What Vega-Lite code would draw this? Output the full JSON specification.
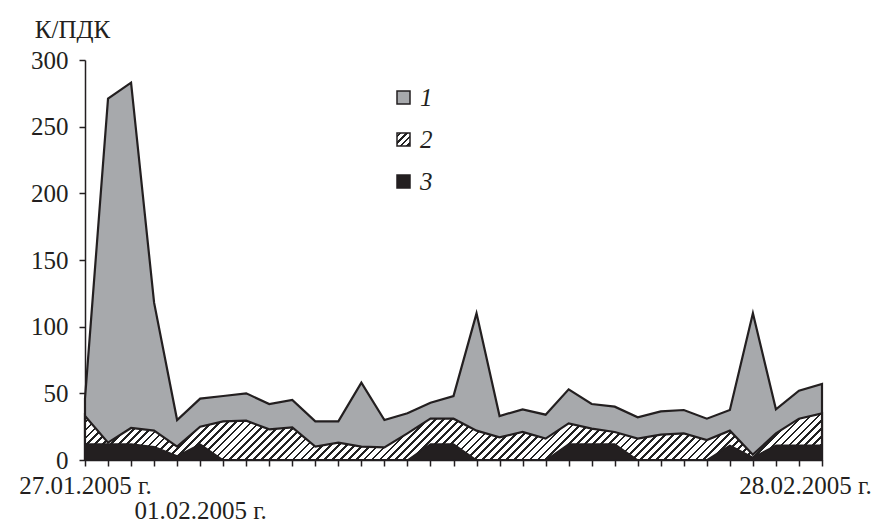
{
  "$schema": "https://vega.github.io/schema/vega-lite/v6.json",
  "autosize": {"type": "none"},
  "padding": {"left": 85, "top": 60, "right": 71, "bottom": 65},
  "width": 737,
  "height": 400,
  "background": "white",
  "config": {
    "view": {"stroke": null},
    "font": "Liberation Serif",
    "axisY": {
      "labelFont": "Liberation Serif",
      "labelFontSize": 25,
      "labelColor": "#231f20",
      "labelPadding": 11,
      "tickSize": 6,
      "tickWidth": 1.5,
      "tickColor": "#231f20",
      "domainColor": "#231f20",
      "domainWidth": 1.5,
      "grid": false,
      "titleFont": "Liberation Serif",
      "titleFontSize": 25,
      "titleFontWeight": "normal",
      "titleColor": "#231f20",
      "titleAngle": 0,
      "titleAlign": "center",
      "titleBaseline": "alphabetic",
      "titleX": -13,
      "titleY": -23
    },
    "legend": {
      "orient": "none",
      "legendX": 306,
      "legendY": 25,
      "direction": "vertical",
      "symbolType": "square",
      "symbolSize": 169,
      "symbolStrokeColor": "#231f20",
      "symbolStrokeWidth": 1.5,
      "labelFont": "Liberation Serif",
      "labelFontStyle": "italic",
      "labelFontSize": 25,
      "labelColor": "#231f20",
      "labelOffset": 4,
      "rowPadding": 16,
      "title": null
    }
  },
  "data": {
    "values": [
      {"day": 0, "date": "27.01", "s1": 46, "s2": 33, "s3": 12},
      {"day": 1, "date": "28.01", "s1": 271, "s2": 13, "s3": 12},
      {"day": 2, "date": "29.01", "s1": 283, "s2": 24, "s3": 12},
      {"day": 3, "date": "30.01", "s1": 118, "s2": 22, "s3": 10},
      {"day": 4, "date": "31.01", "s1": 30, "s2": 10, "s3": 3},
      {"day": 5, "date": "01.02", "s1": 46, "s2": 25, "s3": 12},
      {"day": 6, "date": "02.02", "s1": 48, "s2": 29, "s3": 0},
      {"day": 7, "date": "03.02", "s1": 50, "s2": 29.5, "s3": 0},
      {"day": 8, "date": "04.02", "s1": 42, "s2": 23, "s3": 0},
      {"day": 9, "date": "05.02", "s1": 45, "s2": 24.5, "s3": 0},
      {"day": 10, "date": "06.02", "s1": 29, "s2": 10, "s3": 0},
      {"day": 11, "date": "07.02", "s1": 29, "s2": 13, "s3": 0},
      {"day": 12, "date": "08.02", "s1": 58, "s2": 10, "s3": 0},
      {"day": 13, "date": "09.02", "s1": 30, "s2": 9.5, "s3": 0},
      {"day": 14, "date": "10.02", "s1": 35, "s2": 20, "s3": 0},
      {"day": 15, "date": "11.02", "s1": 43, "s2": 31, "s3": 12},
      {"day": 16, "date": "12.02", "s1": 48, "s2": 31, "s3": 12},
      {"day": 17, "date": "13.02", "s1": 110, "s2": 22, "s3": 0},
      {"day": 18, "date": "14.02", "s1": 33, "s2": 17, "s3": 0},
      {"day": 19, "date": "15.02", "s1": 38, "s2": 21, "s3": 0},
      {"day": 20, "date": "16.02", "s1": 34, "s2": 16, "s3": 0},
      {"day": 21, "date": "17.02", "s1": 53, "s2": 27.5, "s3": 12},
      {"day": 22, "date": "18.02", "s1": 42, "s2": 23.5, "s3": 12},
      {"day": 23, "date": "19.02", "s1": 40, "s2": 21, "s3": 12},
      {"day": 24, "date": "20.02", "s1": 32, "s2": 16, "s3": 0},
      {"day": 25, "date": "21.02", "s1": 36.5, "s2": 19, "s3": 0},
      {"day": 26, "date": "22.02", "s1": 37.5, "s2": 20, "s3": 0},
      {"day": 27, "date": "23.02", "s1": 31, "s2": 15, "s3": 0},
      {"day": 28, "date": "24.02", "s1": 37.5, "s2": 22, "s3": 11},
      {"day": 29, "date": "25.02", "s1": 110, "s2": 4, "s3": 2},
      {"day": 30, "date": "26.02", "s1": 38, "s2": 20, "s3": 11},
      {"day": 31, "date": "27.02", "s1": 52, "s2": 31, "s3": 11},
      {"day": 32, "date": "28.02", "s1": 57, "s2": 35, "s3": 11}
    ]
  },
  "encoding": {
    "x": {
      "field": "day",
      "type": "quantitative",
      "scale": {"domain": [0, 32], "nice": false, "zero": false},
      "axis": {
        "values": [0,1,2,3,4,5,6,7,8,9,10,11,12,13,14,15,16,17,18,19,20,21,22,23,24,25,26,27,28,29,30,31,32],
        "labelExpr": "datum.value === 0 ? '27.01.2005 г.' : datum.value === 5 ? ['', '01.02.2005 г.'] : datum.value === 32 ? '28.02.2005 г.' : ''",
        "labelOffset": {"condition": {"test": "datum.value === 32", "value": -17}, "value": 0},
        "labelFont": "Liberation Serif",
        "labelFontSize": 25,
        "labelColor": "#231f20",
        "labelLineHeight": 25,
        "labelBaseline": "top",
        "labelPadding": 7,
        "labelOverlap": false,
        "labelFlush": false,
        "labelBound": false,
        "tickSize": 6,
        "tickWidth": 1.5,
        "tickColor": "#231f20",
        "domainColor": "#231f20",
        "domainWidth": 1.5,
        "grid": false,
        "title": null
      }
    }
  },
  "layer": [
    {
      "mark": {"type": "area", "stroke": "#231f20", "strokeWidth": 2.2, "strokeJoin": "miter", "strokeMiterLimit": 20},
      "encoding": {
        "y": {
          "field": "s1",
          "type": "quantitative",
          "stack": null,
          "scale": {"domain": [0, 300], "nice": false},
          "axis": {"values": [0, 50, 100, 150, 200, 250, 300], "title": "К/ПДК"}
        },
        "color": {
          "datum": "1",
          "type": "nominal",
          "scale": {
            "domain": ["1", "2", "3"],
            "range": [
              "#a7a9ac",
              {"expr": "{gradient:'linear',x1:0,y1:0,x2:1,y2:1,stops:[{offset:0,color:'#fff'},{offset:0.08,color:'#fff'},{offset:0.08,color:'#222'},{offset:0.18,color:'#222'},{offset:0.18,color:'#fff'},{offset:0.33,color:'#fff'},{offset:0.33,color:'#222'},{offset:0.43,color:'#222'},{offset:0.43,color:'#fff'},{offset:0.58,color:'#fff'},{offset:0.58,color:'#222'},{offset:0.68,color:'#222'},{offset:0.68,color:'#fff'},{offset:0.83,color:'#fff'},{offset:0.83,color:'#222'},{offset:0.93,color:'#222'},{offset:0.93,color:'#fff'},{offset:1,color:'#fff'}]}"},
              "#231f20"
            ]
          }
        }
      }
    },
    {
      "mark": {
        "type": "area",
        "stroke": "#231f20",
        "strokeWidth": 2.2,
        "strokeJoin": "miter",
        "fill": {
          "gradient": "linear",
          "x1": 0, "y1": 0, "x2": 1.0676, "y2": 0.0676,
          "stops": [
            {"offset":0,"color":"#222"},{"offset":0.0035,"color":"#222"},{"offset":0.0035,"color":"#fff"},{"offset":0.01,"color":"#fff"},
            {"offset":0.01,"color":"#222"},{"offset":0.0135,"color":"#222"},{"offset":0.0135,"color":"#fff"},{"offset":0.02,"color":"#fff"},
            {"offset":0.02,"color":"#222"},{"offset":0.0235,"color":"#222"},{"offset":0.0235,"color":"#fff"},{"offset":0.03,"color":"#fff"},
            {"offset":0.03,"color":"#222"},{"offset":0.0335,"color":"#222"},{"offset":0.0335,"color":"#fff"},{"offset":0.04,"color":"#fff"},
            {"offset":0.04,"color":"#222"},{"offset":0.0435,"color":"#222"},{"offset":0.0435,"color":"#fff"},{"offset":0.05,"color":"#fff"},
            {"offset":0.05,"color":"#222"},{"offset":0.0535,"color":"#222"},{"offset":0.0535,"color":"#fff"},{"offset":0.06,"color":"#fff"},
            {"offset":0.06,"color":"#222"},{"offset":0.0635,"color":"#222"},{"offset":0.0635,"color":"#fff"},{"offset":0.07,"color":"#fff"},
            {"offset":0.07,"color":"#222"},{"offset":0.0735,"color":"#222"},{"offset":0.0735,"color":"#fff"},{"offset":0.08,"color":"#fff"},
            {"offset":0.08,"color":"#222"},{"offset":0.0835,"color":"#222"},{"offset":0.0835,"color":"#fff"},{"offset":0.09,"color":"#fff"},
            {"offset":0.09,"color":"#222"},{"offset":0.0935,"color":"#222"},{"offset":0.0935,"color":"#fff"},{"offset":0.10,"color":"#fff"},
            {"offset":0.10,"color":"#222"},{"offset":0.1035,"color":"#222"},{"offset":0.1035,"color":"#fff"},{"offset":0.11,"color":"#fff"},
            {"offset":0.11,"color":"#222"},{"offset":0.1135,"color":"#222"},{"offset":0.1135,"color":"#fff"},{"offset":0.12,"color":"#fff"},
            {"offset":0.12,"color":"#222"},{"offset":0.1235,"color":"#222"},{"offset":0.1235,"color":"#fff"},{"offset":0.13,"color":"#fff"},
            {"offset":0.13,"color":"#222"},{"offset":0.1335,"color":"#222"},{"offset":0.1335,"color":"#fff"},{"offset":0.14,"color":"#fff"},
            {"offset":0.14,"color":"#222"},{"offset":0.1435,"color":"#222"},{"offset":0.1435,"color":"#fff"},{"offset":0.15,"color":"#fff"},
            {"offset":0.15,"color":"#222"},{"offset":0.1535,"color":"#222"},{"offset":0.1535,"color":"#fff"},{"offset":0.16,"color":"#fff"},
            {"offset":0.16,"color":"#222"},{"offset":0.1635,"color":"#222"},{"offset":0.1635,"color":"#fff"},{"offset":0.17,"color":"#fff"},
            {"offset":0.17,"color":"#222"},{"offset":0.1735,"color":"#222"},{"offset":0.1735,"color":"#fff"},{"offset":0.18,"color":"#fff"},
            {"offset":0.18,"color":"#222"},{"offset":0.1835,"color":"#222"},{"offset":0.1835,"color":"#fff"},{"offset":0.19,"color":"#fff"},
            {"offset":0.19,"color":"#222"},{"offset":0.1935,"color":"#222"},{"offset":0.1935,"color":"#fff"},{"offset":0.20,"color":"#fff"},
            {"offset":0.20,"color":"#222"},{"offset":0.2035,"color":"#222"},{"offset":0.2035,"color":"#fff"},{"offset":0.21,"color":"#fff"},
            {"offset":0.21,"color":"#222"},{"offset":0.2135,"color":"#222"},{"offset":0.2135,"color":"#fff"},{"offset":0.22,"color":"#fff"},
            {"offset":0.22,"color":"#222"},{"offset":0.2235,"color":"#222"},{"offset":0.2235,"color":"#fff"},{"offset":0.23,"color":"#fff"},
            {"offset":0.23,"color":"#222"},{"offset":0.2335,"color":"#222"},{"offset":0.2335,"color":"#fff"},{"offset":0.24,"color":"#fff"},
            {"offset":0.24,"color":"#222"},{"offset":0.2435,"color":"#222"},{"offset":0.2435,"color":"#fff"},{"offset":0.25,"color":"#fff"},
            {"offset":0.25,"color":"#222"},{"offset":0.2535,"color":"#222"},{"offset":0.2535,"color":"#fff"},{"offset":0.26,"color":"#fff"},
            {"offset":0.26,"color":"#222"},{"offset":0.2635,"color":"#222"},{"offset":0.2635,"color":"#fff"},{"offset":0.27,"color":"#fff"},
            {"offset":0.27,"color":"#222"},{"offset":0.2735,"color":"#222"},{"offset":0.2735,"color":"#fff"},{"offset":0.28,"color":"#fff"},
            {"offset":0.28,"color":"#222"},{"offset":0.2835,"color":"#222"},{"offset":0.2835,"color":"#fff"},{"offset":0.29,"color":"#fff"},
            {"offset":0.29,"color":"#222"},{"offset":0.2935,"color":"#222"},{"offset":0.2935,"color":"#fff"},{"offset":0.30,"color":"#fff"},
            {"offset":0.30,"color":"#222"},{"offset":0.3035,"color":"#222"},{"offset":0.3035,"color":"#fff"},{"offset":0.31,"color":"#fff"},
            {"offset":0.31,"color":"#222"},{"offset":0.3135,"color":"#222"},{"offset":0.3135,"color":"#fff"},{"offset":0.32,"color":"#fff"},
            {"offset":0.32,"color":"#222"},{"offset":0.3235,"color":"#222"},{"offset":0.3235,"color":"#fff"},{"offset":0.33,"color":"#fff"},
            {"offset":0.33,"color":"#222"},{"offset":0.3335,"color":"#222"},{"offset":0.3335,"color":"#fff"},{"offset":0.34,"color":"#fff"},
            {"offset":0.34,"color":"#222"},{"offset":0.3435,"color":"#222"},{"offset":0.3435,"color":"#fff"},{"offset":0.35,"color":"#fff"},
            {"offset":0.35,"color":"#222"},{"offset":0.3535,"color":"#222"},{"offset":0.3535,"color":"#fff"},{"offset":0.36,"color":"#fff"},
            {"offset":0.36,"color":"#222"},{"offset":0.3635,"color":"#222"},{"offset":0.3635,"color":"#fff"},{"offset":0.37,"color":"#fff"},
            {"offset":0.37,"color":"#222"},{"offset":0.3735,"color":"#222"},{"offset":0.3735,"color":"#fff"},{"offset":0.38,"color":"#fff"},
            {"offset":0.38,"color":"#222"},{"offset":0.3835,"color":"#222"},{"offset":0.3835,"color":"#fff"},{"offset":0.39,"color":"#fff"},
            {"offset":0.39,"color":"#222"},{"offset":0.3935,"color":"#222"},{"offset":0.3935,"color":"#fff"},{"offset":0.40,"color":"#fff"},
            {"offset":0.40,"color":"#222"},{"offset":0.4035,"color":"#222"},{"offset":0.4035,"color":"#fff"},{"offset":0.41,"color":"#fff"},
            {"offset":0.41,"color":"#222"},{"offset":0.4135,"color":"#222"},{"offset":0.4135,"color":"#fff"},{"offset":0.42,"color":"#fff"},
            {"offset":0.42,"color":"#222"},{"offset":0.4235,"color":"#222"},{"offset":0.4235,"color":"#fff"},{"offset":0.43,"color":"#fff"},
            {"offset":0.43,"color":"#222"},{"offset":0.4335,"color":"#222"},{"offset":0.4335,"color":"#fff"},{"offset":0.44,"color":"#fff"},
            {"offset":0.44,"color":"#222"},{"offset":0.4435,"color":"#222"},{"offset":0.4435,"color":"#fff"},{"offset":0.45,"color":"#fff"},
            {"offset":0.45,"color":"#222"},{"offset":0.4535,"color":"#222"},{"offset":0.4535,"color":"#fff"},{"offset":0.46,"color":"#fff"},
            {"offset":0.46,"color":"#222"},{"offset":0.4635,"color":"#222"},{"offset":0.4635,"color":"#fff"},{"offset":0.47,"color":"#fff"},
            {"offset":0.47,"color":"#222"},{"offset":0.4735,"color":"#222"},{"offset":0.4735,"color":"#fff"},{"offset":0.48,"color":"#fff"},
            {"offset":0.48,"color":"#222"},{"offset":0.4835,"color":"#222"},{"offset":0.4835,"color":"#fff"},{"offset":0.49,"color":"#fff"},
            {"offset":0.49,"color":"#222"},{"offset":0.4935,"color":"#222"},{"offset":0.4935,"color":"#fff"},{"offset":0.50,"color":"#fff"},
            {"offset":0.50,"color":"#222"},{"offset":0.5035,"color":"#222"},{"offset":0.5035,"color":"#fff"},{"offset":0.51,"color":"#fff"},
            {"offset":0.51,"color":"#222"},{"offset":0.5135,"color":"#222"},{"offset":0.5135,"color":"#fff"},{"offset":0.52,"color":"#fff"},
            {"offset":0.52,"color":"#222"},{"offset":0.5235,"color":"#222"},{"offset":0.5235,"color":"#fff"},{"offset":0.53,"color":"#fff"},
            {"offset":0.53,"color":"#222"},{"offset":0.5335,"color":"#222"},{"offset":0.5335,"color":"#fff"},{"offset":0.54,"color":"#fff"},
            {"offset":0.54,"color":"#222"},{"offset":0.5435,"color":"#222"},{"offset":0.5435,"color":"#fff"},{"offset":0.55,"color":"#fff"},
            {"offset":0.55,"color":"#222"},{"offset":0.5535,"color":"#222"},{"offset":0.5535,"color":"#fff"},{"offset":0.56,"color":"#fff"},
            {"offset":0.56,"color":"#222"},{"offset":0.5635,"color":"#222"},{"offset":0.5635,"color":"#fff"},{"offset":0.57,"color":"#fff"},
            {"offset":0.57,"color":"#222"},{"offset":0.5735,"color":"#222"},{"offset":0.5735,"color":"#fff"},{"offset":0.58,"color":"#fff"},
            {"offset":0.58,"color":"#222"},{"offset":0.5835,"color":"#222"},{"offset":0.5835,"color":"#fff"},{"offset":0.59,"color":"#fff"},
            {"offset":0.59,"color":"#222"},{"offset":0.5935,"color":"#222"},{"offset":0.5935,"color":"#fff"},{"offset":0.60,"color":"#fff"},
            {"offset":0.60,"color":"#222"},{"offset":0.6035,"color":"#222"},{"offset":0.6035,"color":"#fff"},{"offset":0.61,"color":"#fff"},
            {"offset":0.61,"color":"#222"},{"offset":0.6135,"color":"#222"},{"offset":0.6135,"color":"#fff"},{"offset":0.62,"color":"#fff"},
            {"offset":0.62,"color":"#222"},{"offset":0.6235,"color":"#222"},{"offset":0.6235,"color":"#fff"},{"offset":0.63,"color":"#fff"},
            {"offset":0.63,"color":"#222"},{"offset":0.6335,"color":"#222"},{"offset":0.6335,"color":"#fff"},{"offset":0.64,"color":"#fff"},
            {"offset":0.64,"color":"#222"},{"offset":0.6435,"color":"#222"},{"offset":0.6435,"color":"#fff"},{"offset":0.65,"color":"#fff"},
            {"offset":0.65,"color":"#222"},{"offset":0.6535,"color":"#222"},{"offset":0.6535,"color":"#fff"},{"offset":0.66,"color":"#fff"},
            {"offset":0.66,"color":"#222"},{"offset":0.6635,"color":"#222"},{"offset":0.6635,"color":"#fff"},{"offset":0.67,"color":"#fff"},
            {"offset":0.67,"color":"#222"},{"offset":0.6735,"color":"#222"},{"offset":0.6735,"color":"#fff"},{"offset":0.68,"color":"#fff"},
            {"offset":0.68,"color":"#222"},{"offset":0.6835,"color":"#222"},{"offset":0.6835,"color":"#fff"},{"offset":0.69,"color":"#fff"},
            {"offset":0.69,"color":"#222"},{"offset":0.6935,"color":"#222"},{"offset":0.6935,"color":"#fff"},{"offset":0.70,"color":"#fff"},
            {"offset":0.70,"color":"#222"},{"offset":0.7035,"color":"#222"},{"offset":0.7035,"color":"#fff"},{"offset":0.71,"color":"#fff"},
            {"offset":0.71,"color":"#222"},{"offset":0.7135,"color":"#222"},{"offset":0.7135,"color":"#fff"},{"offset":0.72,"color":"#fff"},
            {"offset":0.72,"color":"#222"},{"offset":0.7235,"color":"#222"},{"offset":0.7235,"color":"#fff"},{"offset":0.73,"color":"#fff"},
            {"offset":0.73,"color":"#222"},{"offset":0.7335,"color":"#222"},{"offset":0.7335,"color":"#fff"},{"offset":0.74,"color":"#fff"},
            {"offset":0.74,"color":"#222"},{"offset":0.7435,"color":"#222"},{"offset":0.7435,"color":"#fff"},{"offset":0.75,"color":"#fff"},
            {"offset":0.75,"color":"#222"},{"offset":0.7535,"color":"#222"},{"offset":0.7535,"color":"#fff"},{"offset":0.76,"color":"#fff"},
            {"offset":0.76,"color":"#222"},{"offset":0.7635,"color":"#222"},{"offset":0.7635,"color":"#fff"},{"offset":0.77,"color":"#fff"},
            {"offset":0.77,"color":"#222"},{"offset":0.7735,"color":"#222"},{"offset":0.7735,"color":"#fff"},{"offset":0.78,"color":"#fff"},
            {"offset":0.78,"color":"#222"},{"offset":0.7835,"color":"#222"},{"offset":0.7835,"color":"#fff"},{"offset":0.79,"color":"#fff"},
            {"offset":0.79,"color":"#222"},{"offset":0.7935,"color":"#222"},{"offset":0.7935,"color":"#fff"},{"offset":0.80,"color":"#fff"},
            {"offset":0.80,"color":"#222"},{"offset":0.8035,"color":"#222"},{"offset":0.8035,"color":"#fff"},{"offset":0.81,"color":"#fff"},
            {"offset":0.81,"color":"#222"},{"offset":0.8135,"color":"#222"},{"offset":0.8135,"color":"#fff"},{"offset":0.82,"color":"#fff"},
            {"offset":0.82,"color":"#222"},{"offset":0.8235,"color":"#222"},{"offset":0.8235,"color":"#fff"},{"offset":0.83,"color":"#fff"},
            {"offset":0.83,"color":"#222"},{"offset":0.8335,"color":"#222"},{"offset":0.8335,"color":"#fff"},{"offset":0.84,"color":"#fff"},
            {"offset":0.84,"color":"#222"},{"offset":0.8435,"color":"#222"},{"offset":0.8435,"color":"#fff"},{"offset":0.85,"color":"#fff"},
            {"offset":0.85,"color":"#222"},{"offset":0.8535,"color":"#222"},{"offset":0.8535,"color":"#fff"},{"offset":0.86,"color":"#fff"},
            {"offset":0.86,"color":"#222"},{"offset":0.8635,"color":"#222"},{"offset":0.8635,"color":"#fff"},{"offset":0.87,"color":"#fff"},
            {"offset":0.87,"color":"#222"},{"offset":0.8735,"color":"#222"},{"offset":0.8735,"color":"#fff"},{"offset":0.88,"color":"#fff"},
            {"offset":0.88,"color":"#222"},{"offset":0.8835,"color":"#222"},{"offset":0.8835,"color":"#fff"},{"offset":0.89,"color":"#fff"},
            {"offset":0.89,"color":"#222"},{"offset":0.8935,"color":"#222"},{"offset":0.8935,"color":"#fff"},{"offset":0.90,"color":"#fff"},
            {"offset":0.90,"color":"#222"},{"offset":0.9035,"color":"#222"},{"offset":0.9035,"color":"#fff"},{"offset":0.91,"color":"#fff"},
            {"offset":0.91,"color":"#222"},{"offset":0.9135,"color":"#222"},{"offset":0.9135,"color":"#fff"},{"offset":0.92,"color":"#fff"},
            {"offset":0.92,"color":"#222"},{"offset":0.9235,"color":"#222"},{"offset":0.9235,"color":"#fff"},{"offset":0.93,"color":"#fff"},
            {"offset":0.93,"color":"#222"},{"offset":0.9335,"color":"#222"},{"offset":0.9335,"color":"#fff"},{"offset":0.94,"color":"#fff"},
            {"offset":0.94,"color":"#222"},{"offset":0.9435,"color":"#222"},{"offset":0.9435,"color":"#fff"},{"offset":0.95,"color":"#fff"},
            {"offset":0.95,"color":"#222"},{"offset":0.9535,"color":"#222"},{"offset":0.9535,"color":"#fff"},{"offset":0.96,"color":"#fff"},
            {"offset":0.96,"color":"#222"},{"offset":0.9635,"color":"#222"},{"offset":0.9635,"color":"#fff"},{"offset":0.97,"color":"#fff"},
            {"offset":0.97,"color":"#222"},{"offset":0.9735,"color":"#222"},{"offset":0.9735,"color":"#fff"},{"offset":0.98,"color":"#fff"},
            {"offset":0.98,"color":"#222"},{"offset":0.9835,"color":"#222"},{"offset":0.9835,"color":"#fff"},{"offset":0.99,"color":"#fff"},
            {"offset":0.99,"color":"#222"},{"offset":0.9935,"color":"#222"},{"offset":0.9935,"color":"#fff"},{"offset":1,"color":"#fff"}
          ]
        }
      },
      "encoding": {
        "y": {"field": "s2", "type": "quantitative", "stack": null, "scale": {"domain": [0, 300], "nice": false}, "axis": {"values": [0, 50, 100, 150, 200, 250, 300], "title": "К/ПДК"}}
      }
    },
    {
      "mark": {"type": "area", "stroke": "#231f20", "strokeWidth": 1.5, "strokeJoin": "miter"},
      "encoding": {
        "y": {"field": "s3", "type": "quantitative", "stack": null, "scale": {"domain": [0, 300], "nice": false}, "axis": {"values": [0, 50, 100, 150, 200, 250, 300], "title": "К/ПДК"}},
        "color": {
          "datum": "3",
          "type": "nominal",
          "scale": {
            "domain": ["1", "2", "3"],
            "range": [
              "#a7a9ac",
              {"expr": "{gradient:'linear',x1:0,y1:0,x2:1,y2:1,stops:[{offset:0,color:'#fff'},{offset:0.08,color:'#fff'},{offset:0.08,color:'#222'},{offset:0.18,color:'#222'},{offset:0.18,color:'#fff'},{offset:0.33,color:'#fff'},{offset:0.33,color:'#222'},{offset:0.43,color:'#222'},{offset:0.43,color:'#fff'},{offset:0.58,color:'#fff'},{offset:0.58,color:'#222'},{offset:0.68,color:'#222'},{offset:0.68,color:'#fff'},{offset:0.83,color:'#fff'},{offset:0.83,color:'#222'},{offset:0.93,color:'#222'},{offset:0.93,color:'#fff'},{offset:1,color:'#fff'}]}"},
              "#231f20"
            ]
          }
        }
      }
    }
  ]
}
